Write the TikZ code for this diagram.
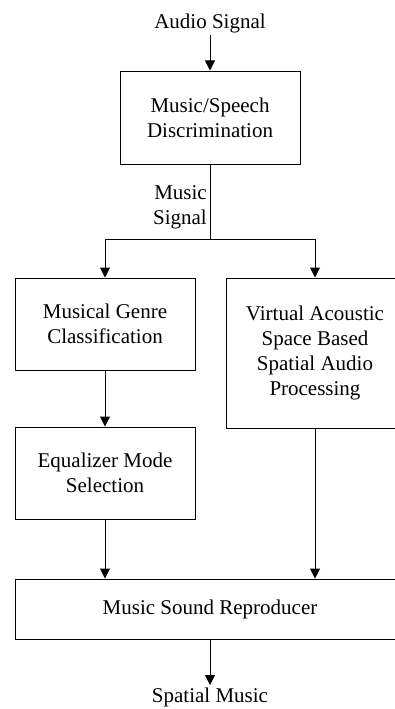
\documentclass[tikz,border=0pt]{standalone}
\usepackage{fontspec}
\setmainfont{Liberation Serif}
\usetikzlibrary{arrows.meta}
\begin{document}
\begin{tikzpicture}[x=1pt,y=-1pt,
  every node/.style={font=\fontsize{21}{25}\selectfont},
  blk/.style={draw, line width=1pt, align=center, inner sep=0pt},
  lbl/.style={inner sep=0pt},
  flow/.style={line width=1pt, -{Triangle[length=10pt,width=10pt]}},
  wire/.style={line width=1pt}]
\useasboundingbox (0,0) rectangle (395,709);
\clip (0,0) rectangle (395,709);
\node[lbl, anchor=base] (audio) at (210,29) {Audio Signal};
\coordinate (audioout) at (210,35);
\node[blk, minimum width=180pt, minimum height=93pt] (msd) at (210,117.5) {Music/Speech\\Discrimination};
\node[lbl, anchor=east, align=right] (msig) at (207,207) {Music\\Signal};
\coordinate (fork) at (210,239);
\node[blk, minimum width=180pt, minimum height=92pt] (mgc) at (105,324) {Musical Genre\\Classification};
\node[blk, minimum width=178pt, minimum height=150pt] (vas) at (315,353) {Virtual Acoustic\\Space Based\\Spatial Audio\\Processing};
\node[blk, minimum width=180pt, minimum height=92pt] (ems) at (105,473) {Equalizer Mode\\Selection};
\node[blk, minimum width=390pt, minimum height=60pt] (msr) at (210,609) {Music Sound Reproducer};
\node[lbl, anchor=north, inner sep=3pt] (spm) at (210,685) {Spatial Music};
\draw[flow] (audioout) -- (msd.north);
\draw[wire] (msd.south) -- (fork);
\draw[flow] (fork) -| (mgc.north);
\draw[flow] (fork) -| (vas.north);
\draw[flow] (mgc.south) -- (ems.north);
\draw[flow] (ems.south) -- (ems.south |- msr.north);
\draw[flow] (vas.south) -- (vas.south |- msr.north);
\draw[flow] (msr.south) -- (spm.north);
\end{tikzpicture}
\end{document}
